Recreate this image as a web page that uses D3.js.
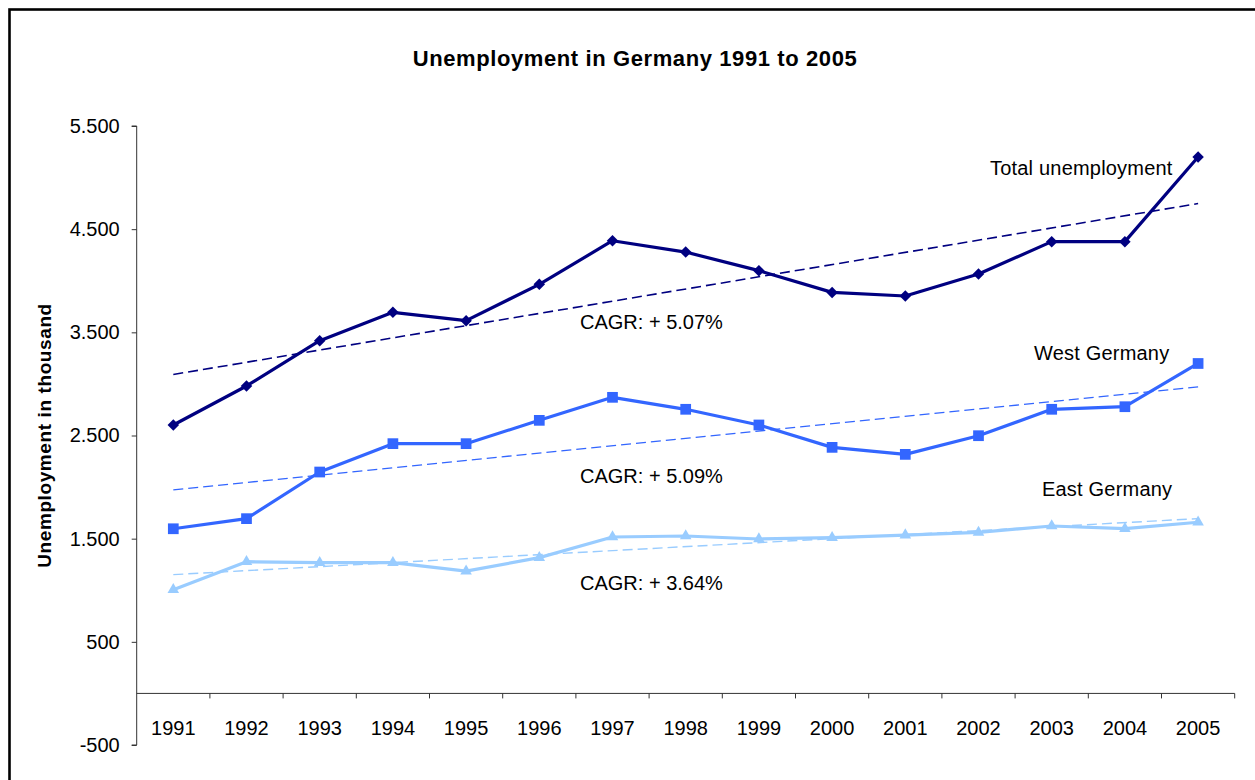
<!DOCTYPE html>
<html>
<head>
<meta charset="utf-8">
<script src="https://cdn.jsdelivr.net/npm/d3@7"></script>
<style>
  html, body { margin: 0; padding: 0; background: #fff; }
  svg { display: block; font-family: Arial, "Liberation Sans", sans-serif; }
</style>
</head>
<body>
<svg id="chart" width="1255" height="780"></svg>
<script>
// ---- data (unemployment in thousand) ----
const years = ["1991","1992","1993","1994","1995","1996","1997","1998","1999","2000","2001","2002","2003","2004","2005"];
const totalUnemployment = [2602, 2980, 3419, 3694, 3613, 3965, 4388, 4278, 4098, 3887, 3852, 4065, 4379, 4379, 5200];
const westGermany       = [1596, 1694, 2146, 2421, 2421, 2647, 2870, 2754, 2602, 2385, 2317, 2498, 2754, 2779, 3198];
const eastGermany       = [1006, 1277, 1267, 1267, 1186, 1316, 1516, 1526, 1497, 1510, 1535, 1561, 1623, 1597, 1659];
const yTicks = [-500, 500, 1500, 2500, 3500, 4500, 5500];
const seriesNames = ["Total unemployment", "West Germany", "East Germany"];
const chartTitle = "Unemployment in Germany 1991 to 2005";
const yAxisTitle = "Unemployment in thousand";

// ---- layout ----
const svg = d3.select("#chart");
const plot = { left: 136.7, right: 1234.7, top: 126, bottom: 745 };

const x = d3.scaleBand().domain(years).range([plot.left, plot.right]).padding(0);
const y = d3.scaleLinear().domain([-500, 5500]).range([plot.bottom, plot.top]);
const cx = d => x(d) + x.bandwidth() / 2;

const de = d3.formatLocale({ decimal: ",", thousands: ".", grouping: [3], currency: ["", ""], minus: "-" });
const fmtThousands = de.format(",");

// series styling, labels placed to the right of each line
const series = [
  { name: seriesNames[0], values: totalUnemployment, color: "#000080", symbol: "diamond", trendWidth: 1.6,
    label: [990, 175], cagr: [580, 329] },
  { name: seriesNames[1], values: westGermany, color: "#3366FF", symbol: "square", trendWidth: 1.4,
    label: [1034, 360], cagr: [580, 483] },
  { name: seriesNames[2], values: eastGermany, color: "#99CCFF", symbol: "triangle", trendWidth: 1.4,
    label: [1042, 496], cagr: [580, 590] }
];

// least-squares linear trend over the category index
function linearTrend(values) {
  const xs = d3.range(values.length);
  const mx = d3.mean(xs), my = d3.mean(values);
  let sxy = 0, sxx = 0;
  xs.forEach((v, i) => { sxy += (v - mx) * (values[i] - my); sxx += (v - mx) ** 2; });
  const b = sxy / sxx, a = my - b * mx;
  return xs.map(v => a + b * v);
}
function cagr(values) {
  return Math.pow(values[values.length - 1] / values[0], 1 / (values.length - 1)) - 1;
}

// background and frame
svg.append("rect").attr("width", 1255).attr("height", 780).attr("fill", "#fff");
svg.append("rect").attr("x", 9.5).attr("y", 9.5).attr("width", 1400).attr("height", 900)
  .attr("fill", "none").attr("stroke", "#000").attr("stroke-width", 2.6);

// title
svg.append("text").attr("x", 635).attr("y", 65.5).attr("text-anchor", "middle")
  .attr("font-size", 22).attr("font-weight", "bold").attr("letter-spacing", 0.6)
  .attr("fill", "#000").text(chartTitle);

// y axis
const yAxis = d3.axisLeft(y).tickValues(yTicks).tickSize(5).tickPadding(12).tickFormat(fmtThousands);
const gy = svg.append("g").attr("transform", `translate(${plot.left},0)`).call(yAxis);
gy.select(".domain").attr("stroke", "#333").attr("d", `M-5,${y(5500)}H0V${y(-500)}H-5`);
gy.selectAll(".tick line").attr("stroke", "#333");
gy.selectAll(".tick text").attr("font-size", 20).attr("font-family", "Arial, 'Liberation Sans', sans-serif").attr("fill", "#000");

svg.append("text")
  .attr("transform", `translate(50.5,${(y(5500) + y(-500)) / 2}) rotate(-90)`)
  .attr("text-anchor", "middle").attr("font-size", 19).attr("font-weight", "bold")
  .attr("letter-spacing", 0.6).attr("fill", "#000").text(yAxisTitle);

// category axis crossing at zero, ticks between categories
const y0 = y(0);
const gx = svg.append("g");
gx.append("line").attr("x1", plot.left).attr("x2", plot.right).attr("y1", y0).attr("y2", y0)
  .attr("stroke", "#333").attr("stroke-width", 1);
gx.selectAll("line.tick").data(years)
  .join("line").attr("class", "tick")
  .attr("x1", d => x(d) + x.step()).attr("x2", d => x(d) + x.step())
  .attr("y1", y0).attr("y2", y0 + 5).attr("stroke", "#333");
gx.selectAll("text").data(years).join("text")
  .attr("x", d => cx(d)).attr("y", y0 + 42).attr("text-anchor", "middle")
  .attr("font-size", 20).attr("fill", "#000").text(d => d);

// trend lines, from first to last category
const first = years[0], last = years[years.length - 1];
series.forEach(s => {
  const t = linearTrend(s.values);
  svg.append("line")
    .attr("x1", cx(first)).attr("y1", y(t[0]))
    .attr("x2", cx(last)).attr("y2", y(t[t.length - 1]))
    .attr("stroke", s.color).attr("stroke-width", s.trendWidth)
    .attr("stroke-dasharray", "10,5");
});

// series lines and markers
const symbolPath = {
  diamond: d3.symbol(d3.symbolSquare, 66)(),
  square: d3.symbol(d3.symbolSquare, 115)(),
  triangle: d3.symbol(d3.symbolTriangle, 58)()
};
series.forEach(s => {
  svg.append("path")
    .attr("d", d3.line().x((d, i) => cx(years[i])).y(d => y(d))(s.values))
    .attr("fill", "none").attr("stroke", s.color).attr("stroke-width", 3.2)
    .attr("stroke-linejoin", "round");
  svg.append("g").selectAll("path").data(s.values).join("path")
    .attr("d", symbolPath[s.symbol])
    .attr("transform", (d, i) => `translate(${cx(years[i])},${y(d)})` + (s.symbol === "diamond" ? " rotate(45)" : ""))
    .attr("fill", s.color);
});

// series labels and CAGR notes
const fmtPct = d3.format(".2f");
series.forEach(s => {
  svg.append("text").attr("x", s.label[0]).attr("y", s.label[1])
    .attr("font-size", 20).attr("letter-spacing", 0.2).attr("fill", "#000").text(s.name);
  svg.append("text").attr("x", s.cagr[0]).attr("y", s.cagr[1])
    .attr("font-size", 20).attr("fill", "#000").text(`CAGR: + ${fmtPct(cagr(s.values) * 100)}%`);
});
</script>
</body>
</html>
